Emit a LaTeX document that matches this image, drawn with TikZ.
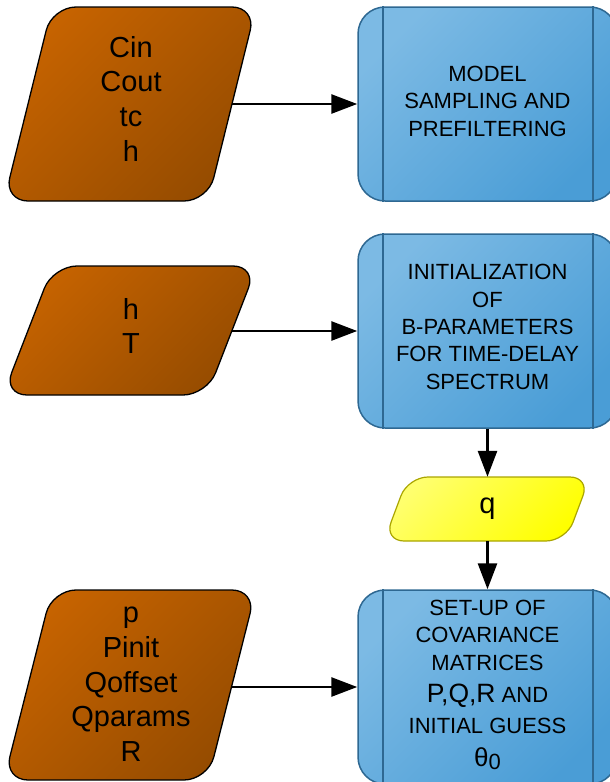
\documentclass[tikz,border=0pt]{standalone}
\usepackage{fontspec}
\setmainfont{Liberation Sans}
\usetikzlibrary{arrows.meta}

\definecolor{brownA}{RGB}{198,99,0}
\definecolor{brownB}{RGB}{150,76,0}
\definecolor{blueA}{RGB}{124,186,228}
\definecolor{blueB}{RGB}{74,157,214}
\definecolor{blueEdge}{RGB}{46,104,146}
\definecolor{yelA}{RGB}{255,255,110}
\definecolor{yelB}{RGB}{255,255,0}
\definecolor{yelEdge}{RGB}{170,165,0}

\begin{document}
\begin{tikzpicture}[x=1pt,y=-1pt,
  inshape/.style={draw=black, line width=1.3pt, rounded corners=24pt,
    top color=brownA, bottom color=brownB, shading angle=45},
  dataq/.style={draw=yelEdge, line width=1.2pt, rounded corners=20pt,
    top color=yelA, bottom color=yelB, shading angle=45},
  procbox/.style={draw=blueEdge, line width=1.5pt, rounded corners=27pt,
    top color=blueA, bottom color=blueB, shading angle=45,
    minimum width=259pt, minimum height=194pt, inner sep=0pt},
  procline/.style={draw=blueEdge, line width=1.5pt},
  port/.style={minimum width=204pt, minimum height=1pt, inner sep=0pt},
  intext/.style={anchor=north, inner sep=0pt, align=center,
    font=\fontsize{29}{34.7}\selectfont},
  proctext/.style={anchor=north, inner sep=0pt, align=center,
    font=\fontsize{22}{27.3}\selectfont},
  flow/.style={line width=2.8pt, -{Triangle[length=26pt,width=19pt]}}
]
\useasboundingbox (0,0) rectangle (610,782);
\clip (0,0) rectangle (610,782);

% input parallelograms
\path[inshape] (52,7) -- (256,7) -- (208,201) -- (4,201) -- cycle;
\path[inshape] (53,266) -- (257,266) -- (207,395) -- (3,395) -- cycle;
\path[inshape] (52,590) -- (256,590) -- (208,780) -- (4,780) -- cycle;
\node[port] (in1) at (130,104) {};
\node[port] (in2) at (130,330.5) {};
\node[port] (in3) at (130,685) {};
\node[intext] (in1t) at (131,35.8) {\vphantom{H}Cin\\Cout\\tc\\h};
\node[intext] (in2t) at (131,297.9) {\vphantom{H}h\\T};
\node[intext] (in3t) at (131,602.5) {\vphantom{H}p\\Pinit\\Qoffset\\Qparams\\R};

% process boxes
\node[procbox] (b1) at (487.5,104) {};
\node[procbox] (b2) at (487.5,331) {};
\node[procbox] (b3) at (487.5,687) {};
\foreach \b in {b1,b2,b3}{
  \draw[procline] ([xshift=25.5pt]\b.north west) -- ([xshift=25.5pt]\b.south west);
  \draw[procline] ([xshift=-25pt]\b.north east) -- ([xshift=-25pt]\b.south east);
}
\node[proctext] (b1t) at (487.5,66) {\vphantom{H}MODEL\\SAMPLING AND\\PREFILTERING};
\node[proctext] (b2t) at (487.5,264.3) {\vphantom{H}INITIALIZATION\\OF\\B-PARAMETERS\\FOR TIME-DELAY\\SPECTRUM};
\node[proctext] (b3t) at (487.5,600) {\vphantom{H}SET-UP OF\\COVARIANCE\\MATRICES\\[5.4pt]{\fontsize{26.5}{27.3}\selectfont P,Q,R} AND\\[3pt]INITIAL GUESS\\[6pt]{\fontsize{26}{27.3}\selectfont θ}\raisebox{-3.5pt}{0}};

% intermediate data
\path[dataq] (408,477) -- (590,477) -- (566,541) -- (384,541) -- cycle;
\node[minimum width=150pt, minimum height=64pt, inner sep=0pt,
  font=\fontsize{29}{34}\selectfont] (q) at (487.5,509) {q};

% connectors
\draw[flow] (in1.east |- b1.west) -- (b1.west);
\draw[flow] (in2.east |- b2.west) -- (b2.west);
\draw[flow] (in3.east |- b3.west) -- (b3.west);
\draw[flow] (b2.south) -- (q.north);
\draw[flow] (q.south) -- (b3.north);
\end{tikzpicture}
\end{document}
